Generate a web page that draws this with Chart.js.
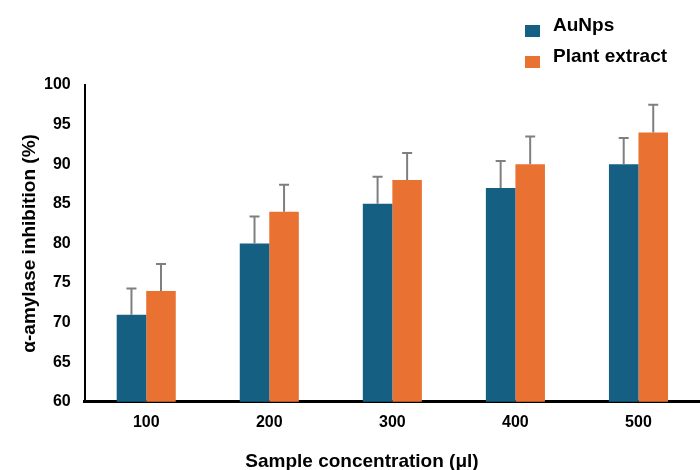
<!DOCTYPE html>
<html>
<head>
<meta charset="utf-8">
<script src="https://cdn.jsdelivr.net/npm/chart.js@4.4.1/dist/chart.umd.min.js"></script>
<style>
    body { margin: 0; background: #fff; font-family: "Liberation Sans", Arial, sans-serif; }
    #wrap { position: relative; width: 700px; height: 470px; }
    #legend { position: absolute; left: 525px; top: 14px; font-weight: bold; font-size: 19px; color: #000; }
    .item { position: relative; height: 31px; padding-left: 28px; line-height: 22px; }
    .box { position: absolute; left: 0; top: 11px; width: 15px; height: 12px; }
</style>
</head>
<body>
<div id="wrap">
    <canvas id="inhibitionChart" width="700" height="470"></canvas>
    <div id="legend"></div>
</div>
<script>
// Chart data
const categories = ['100', '200', '300', '400', '500'];
const auNps = [71, 80, 85, 87, 90];
const auNpsErr = [3.3, 3.4, 3.4, 3.4, 3.3];
const plantExtract = [74, 84, 88, 90, 94];
const plantExtractErr = [3.4, 3.4, 3.4, 3.5, 3.5];
const yTicks = [60, 65, 70, 75, 80, 85, 90, 95, 100];

const blue = '#156082';
const orange = '#e97132';
const titleFont = 'bold 19px "Liberation Sans", Arial, sans-serif';

// Draws the upper error bars on top of each bar
const errorBars = {
    id: 'errorBars',
    afterDatasetsDraw(chart) {
        const ctx = chart.ctx;
        const y = chart.scales.y;
        ctx.save();
        ctx.strokeStyle = '#7f7f7f';
        ctx.lineWidth = 2;
        chart.data.datasets.forEach((ds, i) => {
            const meta = chart.getDatasetMeta(i);
            meta.data.forEach((bar, j) => {
                const top = y.getPixelForValue(ds.data[j] + ds.errors[j]);
                ctx.beginPath();
                ctx.moveTo(bar.x, bar.y);
                ctx.lineTo(bar.x, top);
                ctx.moveTo(bar.x - 5, top);
                ctx.lineTo(bar.x + 5, top);
                ctx.stroke();
            });
        });
        ctx.restore();
    }
};

// Axis titles, placed like the original
const axisTitles = {
    id: 'axisTitles',
    afterDraw(chart) {
        const ctx = chart.ctx;
        const area = chart.chartArea;
        ctx.save();
        ctx.font = titleFont;
        ctx.fillStyle = '#000';
        ctx.textAlign = 'center';
        ctx.textBaseline = 'middle';
        ctx.fillText('Sample concentration (μl)', chart.width / 2 + 12, chart.height - 8);
        ctx.translate(30, (area.top + area.bottom) / 2);
        ctx.rotate(-Math.PI / 2);
        ctx.fillText('α-amylase inhibition (%)', 0, 0);
        ctx.restore();
    }
};

const chart = new Chart(document.getElementById('inhibitionChart').getContext('2d'), {
    type: 'bar',
    data: {
        labels: categories,
        datasets: [{
            label: 'AuNps',
            data: auNps,
            errors: auNpsErr,
            backgroundColor: blue
        }, {
            label: 'Plant extract',
            data: plantExtract,
            errors: plantExtractErr,
            backgroundColor: orange
        }]
    },
    options: {
        responsive: false,
        animation: false,
        categoryPercentage: 0.48,
        barPercentage: 1,
        layout: { padding: { top: 85, left: 30, right: 0, bottom: 27 } },
        plugins: {
            legend: { display: false },
            tooltip: { enabled: false }
        },
        scales: {
            x: {
                grid: { display: false, drawTicks: false },
                border: { display: true, color: '#000', width: 3 },
                ticks: {
                    color: '#000',
                    padding: 11,
                    font: { family: '"Liberation Sans", Arial', size: 16, weight: 'bold' }
                }
            },
            y: {
                min: 60,
                max: 100,
                afterBuildTicks: axis => { axis.ticks = yTicks.map(v => ({ value: v })); },
                grid: { display: false, drawTicks: false },
                border: { display: true, color: '#000', width: 2 },
                ticks: {
                    color: '#000',
                    padding: 14,
                    font: { family: '"Liberation Sans", Arial', size: 16, weight: 'bold' }
                }
            }
        }
    },
    plugins: [errorBars, axisTitles]
});

// Build the vertical legend from the datasets
const legend = document.getElementById('legend');
chart.data.datasets.forEach(ds => {
    const item = document.createElement('div');
    item.className = 'item';
    item.innerHTML = '<span class="box" style="background:' + ds.backgroundColor + '"></span>' + ds.label;
    legend.appendChild(item);
});
</script>
</body>
</html>
